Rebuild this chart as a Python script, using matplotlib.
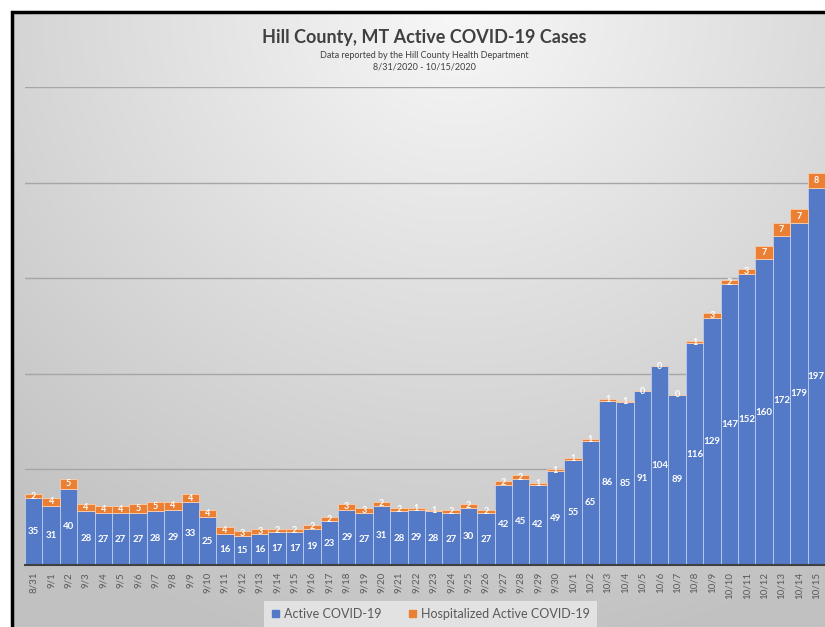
import numpy as np
import matplotlib
matplotlib.use("Agg")
import matplotlib.pyplot as plt
from matplotlib.patches import Patch, Rectangle

plt.rcParams['font.family'] = ['Lato', 'DejaVu Sans']

dates = ['8/31', '9/1', '9/2', '9/3', '9/4', '9/5', '9/6', '9/7', '9/8', '9/9',
         '9/10', '9/11', '9/12', '9/13', '9/14', '9/15', '9/16', '9/17', '9/18', '9/19',
         '9/20', '9/21', '9/22', '9/23', '9/24', '9/25', '9/26', '9/27', '9/28', '9/29',
         '9/30', '10/1', '10/2', '10/3', '10/4', '10/5', '10/6', '10/7', '10/8', '10/9',
         '10/10', '10/11', '10/12', '10/13', '10/14', '10/15']
active = [35, 31, 40, 28, 27, 27, 27, 28, 29, 33,
          25, 16, 15, 16, 17, 17, 19, 23, 29, 27,
          31, 28, 29, 28, 27, 30, 27, 42, 45, 42,
          49, 55, 65, 86, 85, 91, 104, 89, 116, 129,
          147, 152, 160, 172, 179, 197]
hospitalized = [2, 4, 5, 4, 4, 4, 5, 5, 4, 4,
                4, 4, 3, 3, 2, 2, 2, 2, 3, 3,
                2, 2, 1, 1, 2, 2, 2, 2, 2, 1,
                1, 1, 1, 1, 1, 0, 0, 0, 1, 3,
                2, 3, 7, 7, 7, 8]

W, H = 825, 627
blue = '#5479C6'
orange = '#EB8035'

fig = plt.figure(figsize=(W / 100, H / 100), dpi=100)
fig.patch.set_facecolor('white')

# gradient background inside the black frame
bg = fig.add_axes([12 / W, 0, 1 - 12 / W, 1 - 12 / H])
yy, xx = np.mgrid[0:1:300j, 0:1:400j]
r = np.sqrt(((xx - 0.55) / 0.85) ** 2 + (yy / 1.05) ** 2)
shade = 0.97 - 0.21 * np.clip(r, 0, 1)
bg.imshow(np.dstack([shade] * 3), aspect='auto', extent=[0, 1, 1, 0])
bg.set_axis_off()
fig.patches.append(Rectangle((12 / W, -0.01), 1, 1 - 12 / H + 0.01,
                             transform=fig.transFigure, fill=False,
                             edgecolor='black', linewidth=2.5, zorder=5))

ax = fig.add_axes([25 / W, (H - 565) / H, (W - 25) / W, (565 - 87) / H])
ax.set_facecolor('none')
x = np.arange(len(dates))
ax.bar(x, active, width=1.0, color=blue, edgecolor='#b4c7ec', linewidth=0.7, zorder=3)
ax.bar(x, hospitalized, width=1.0, bottom=active, color=orange, edgecolor='#f5c9a8',
       linewidth=0.7, zorder=3)

for i in range(len(dates)):
    ax.text(x[i], active[i] / 2, str(active[i]), ha='center', va='center',
            color='white', fontsize=7, fontweight='bold', zorder=4)
    ax.text(x[i], active[i] + hospitalized[i] / 2, str(hospitalized[i]),
            ha='center', va='center', color='white', fontsize=6.5,
            fontweight='bold', zorder=4)

ax.set_xlim(-0.5, len(dates) - 0.5)
ax.set_ylim(0, 250)
ax.set_yticks([50, 100, 150, 200, 250])
ax.set_yticklabels([])
ax.yaxis.grid(True, color='#a6a6a6', linewidth=1, zorder=0)
ax.tick_params(axis='y', length=0)
ax.set_xticks(x)
ax.set_xticklabels(dates, rotation=90, fontsize=7, color='#595959')
ax.tick_params(axis='x', length=0, pad=5)
for s in ['top', 'right', 'left']:
    ax.spines[s].set_visible(False)
ax.spines['bottom'].set_color('#404040')
ax.spines['bottom'].set_linewidth(1.5)
ax.spines['bottom'].set_zorder(5)

fig.text(0.514, 1 - 37 / H, 'Hill County, MT Active COVID-19 Cases', ha='center',
         va='center', fontsize=13, fontweight='bold', color='#404040')
fig.text(0.514, 1 - 55 / H, 'Data reported by the Hill County Health Department',
         ha='center', va='center', fontsize=6.5, color='#404040')
fig.text(0.514, 1 - 67 / H, '8/31/2020 - 10/15/2020', ha='center', va='center',
         fontsize=6.5, color='#404040')

handles = [Patch(color=blue, label='Active COVID-19'),
           Patch(color=orange, label='Hospitalized Active COVID-19')]
leg = fig.legend(handles=handles, loc='center', bbox_to_anchor=(0.522, 13 / H), ncol=2,
                 frameon=True, fontsize=9, labelcolor='#595959', handlelength=0.55,
                 handleheight=0.55, columnspacing=2.2, handletextpad=0.4,
                 fancybox=False, borderpad=0.6)
leg.get_frame().set_facecolor('#e2e2e2')
leg.get_frame().set_edgecolor('none')
leg.get_frame().set_alpha(1)

fig.savefig('out.png', dpi=100)
